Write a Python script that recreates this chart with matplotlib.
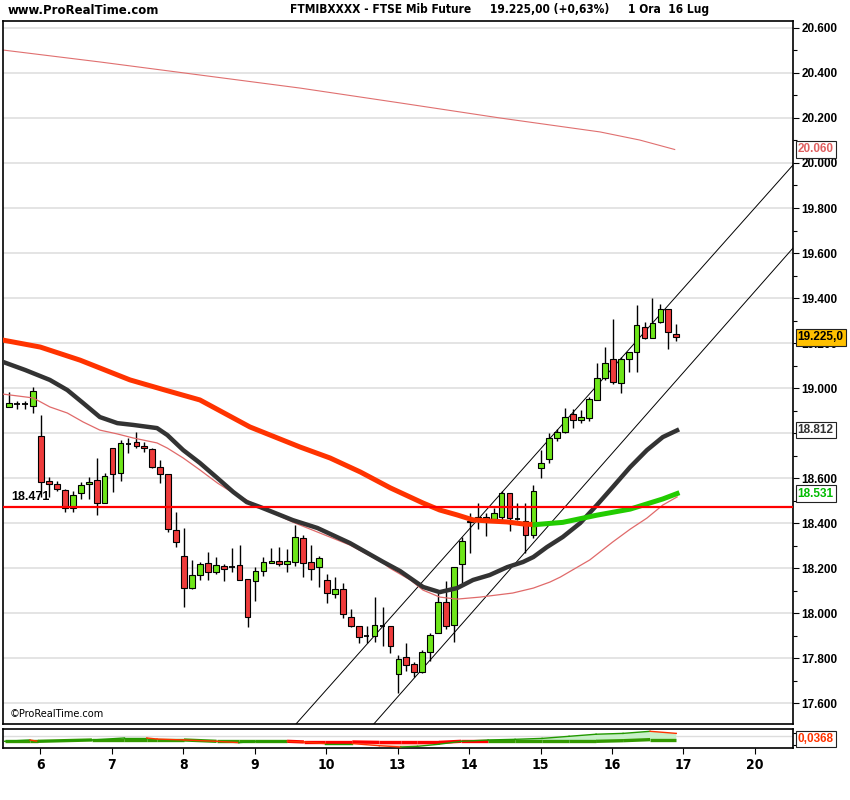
import numpy as np
import matplotlib.pyplot as plt
from matplotlib import font_manager
from matplotlib.ticker import MultipleLocator, FuncFormatter
from matplotlib.transforms import blended_transform_factory

# hourly candles: last 4 bars of 3 Jul, then 6..16 Jul (9 bars a day)
opens = [18917, 18928, 18928, 18921,
         18787, 18587, 18572, 18547, 18465, 18532, 18572, 18591, 18488,
         18732, 18621, 18750, 18762, 18742, 18728, 18650, 18616, 18369,
         18253, 18110, 18167, 18221, 18184, 18209, 18206, 18212, 18150,
         18144, 18188, 18221, 18231, 18216, 18228, 18332, 18225, 18203,
         18145, 18084, 18105, 17984, 17944, 17898, 17898, 17944, 17944,
         17728, 17803, 17773, 17736, 17828, 17910, 18048, 17947, 18216,
         18406, 18409, 18428, 18419, 18428, 18532, 18416, 18410, 18347,
         18643, 18683, 18776, 18806, 18883, 18858, 18866, 18947, 19043,
         19127, 19021, 19127, 19159, 19270, 19224, 19292, 19350, 19238]
highs = [18981, 18942, 18942, 19006,
         18880, 18603, 18587, 18550, 18544, 18581, 18603, 18689, 18624,
         18735, 18769, 18776, 18806, 18762, 18732, 18680, 18616, 18450,
         18379, 18236, 18228, 18271, 18249, 18218, 18289, 18302, 18150,
         18206, 18248, 18290, 18292, 18283, 18391, 18347, 18302, 18253,
         18173, 18162, 18132, 18017, 17944, 17942, 18070, 18025, 17944,
         17813, 17868, 17784, 17836, 17913, 18088, 18142, 18206, 18339,
         18443, 18487, 18443, 18468, 18544, 18535, 18487, 18487, 18569,
         18724, 18799, 18816, 18911, 18905, 18902, 18959, 19112, 19181,
         19305, 19136, 19161, 19369, 19295, 19399, 19373, 19350, 19284]
lows = [18917, 18905, 18905, 18887,
        18517, 18517, 18542, 18448, 18450, 18505, 18505, 18437, 18488,
        18539, 18588, 18710, 18732, 18717, 18643, 18579, 18362, 18295,
        18028, 18105, 18147, 18147, 18172, 18142, 18184, 18147, 17937,
        18055, 18164, 18221, 18210, 18184, 18210, 18162, 18147, 18114,
        18046, 18066, 17979, 17937, 17865, 17868, 17873, 17853, 17824,
        17643, 17744, 17714, 17732, 17788, 17910, 17929, 17873, 18135,
        18265, 18373, 18344, 18419, 18413, 18366, 18413, 18265, 18332,
        18599, 18665, 18766, 18799, 18821, 18843, 18853, 18947, 19036,
        19016, 18976, 19070, 19070, 19217, 19221, 19288, 19172, 19210]
closes = [18935, 18928, 18928, 18987,
          18584, 18572, 18550, 18465, 18523, 18568, 18581, 18488, 18610,
          18616, 18754, 18750, 18742, 18733, 18648, 18618, 18372, 18317,
          18113, 18167, 18216, 18181, 18212, 18194, 18206, 18147, 17984,
          18188, 18225, 18231, 18216, 18231, 18337, 18221, 18194, 18243,
          18088, 18105, 17994, 17944, 17892, 17898, 17945, 17944, 17853,
          17794, 17769, 17736, 17828, 17901, 18048, 17944, 18206, 18322,
          18409, 18428, 18419, 18443, 18532, 18421, 18416, 18347, 18544,
          18668, 18776, 18806, 18870, 18858, 18870, 18950, 19043, 19110,
          19025, 19127, 19159, 19280, 19221, 19288, 19350, 19247, 19225]

day_labels = ['6', '7', '8', '9', '10', '13', '14', '15', '16', '17', '20']

# averages (bar position, value)
ma_red_x = [-0.8, 3.9, 8.9, 15.2, 19.6, 24.0, 30.3, 36.6, 40.4, 44.2, 48.0,
            52.1, 54.2, 56.4, 58.4, 60.5, 62.7, 64.7, 66.2]
ma_red_y = [19213, 19182, 19124, 19036, 18991, 18947, 18827, 18738, 18689,
            18627, 18556, 18489, 18458, 18436, 18414, 18409, 18405, 18396, 18393]
ma_green_x = [66.2, 69.7, 74.0, 78.2, 82.3, 84.1]
ma_green_y = [18393, 18403, 18435, 18462, 18507, 18531]

ma_gray_x = [-0.8, 2.0, 5.1, 7.3, 9.3, 11.4, 13.6, 15.6, 18.6, 19.9, 21.9,
             24.0, 26.2, 28.2, 29.9, 31.6, 35.7, 38.8, 42.9, 45.1, 47.1, 49.2,
             52.1, 54.2, 56.4, 58.4, 60.5, 62.7, 64.7, 66.0, 67.7, 69.7, 71.9,
             74.0, 76.0, 78.2, 80.3, 82.3, 84.1]
ma_gray_y = [19116, 19080, 19036, 18991, 18933, 18871, 18844, 18836, 18822,
             18791, 18724, 18667, 18600, 18538, 18493, 18471, 18413, 18378,
             18311, 18267, 18227, 18187, 18116, 18093, 18111, 18147, 18169,
             18204, 18227, 18249, 18293, 18338, 18400, 18480, 18560, 18649,
             18724, 18782, 18812]

ma_thin_x = [-0.8, 3.0, 5.1, 7.3, 9.3, 11.4, 13.6, 15.6, 18.6, 19.9, 21.9,
             24.0, 26.2, 28.2, 29.9, 31.6, 35.7, 42.9, 47.1, 47.9, 50.5, 52.1,
             54.2, 56.4, 59.3, 63.4, 66.0, 68.1, 69.4, 73.1, 76.0, 78.2, 80.3,
             82.3, 84.1]
ma_thin_y = [18973, 18956, 18916, 18889, 18849, 18813, 18796, 18778, 18756,
             18733, 18689, 18636, 18578, 18533, 18502, 18471, 18404, 18302,
             18222, 18200, 18147, 18102, 18071, 18062, 18071, 18089, 18111,
             18138, 18160, 18236, 18316, 18373, 18422, 18480, 18516]

ma_long_x = [-0.8, 11.4, 24.0, 36.6, 49.2, 61.8, 74.4, 79.4, 83.8]
ma_long_y = [20502, 20449, 20391, 20333, 20267, 20200, 20138, 20102, 20060]

level = 18471
chan1_x = [36.1, 98.7]
chan1_y = [17507, 19991]
chan2_x = [45.9, 98.7]
chan2_y = [17507, 19622]

# lower oscillator panel
osc_x = [-0.6, 2.6, 3.6, 10.4, 14.5, 17.3, 18.6, 22.0, 26.1, 28.9, 30.9, 35.0,
         37.1, 39.8, 43.2, 46.6, 49.3, 51.4, 54.1, 56.9, 60.3, 63.7, 67.1, 70.5,
         73.9, 77.3, 80.7, 84.0]
osc_y = [0, 0.0064, 0, 0.0064, 0.016, 0.016, 0.011, 0.0064, 0, -0.0064, 0, 0,
         -0.0032, -0.011, -0.011, -0.021, -0.027, -0.024, -0.014, 0, 0.0064,
         0.0096, 0.014, 0.024, 0.034, 0.038, 0.048, 0.038]
sig_y = [0, 0, 0, 0.0064, 0.0064, 0.0064, 0.0064, 0.0064, 0, 0, 0, 0,
         -0.003, -0.003, -0.003, -0.005, -0.005, -0.005, -0.005, 0, 0, 0, 0, 0,
         0, 0.003, 0.008, 0.008]

GREEN = '#6EE619'
RED = '#EE3B3B'
BOLD = ['Liberation Sans', 'DejaVu Sans']

# pick a condensed face for the header/date texts if one is installed
_fonts = {(f.name, f.stretch) for f in font_manager.fontManager.ttflist}
if any(name == 'Liberation Sans Narrow' for name, _ in _fonts):
    NARROW = dict(family=['Liberation Sans Narrow', 'DejaVu Sans'])
elif ('DejaVu Sans', 'condensed') in _fonts:
    NARROW = dict(family=['DejaVu Sans'], fontstretch='condensed')
else:
    NARROW = dict(family=BOLD)

fig = plt.figure(figsize=(8.5, 8), dpi=100)
ax = fig.add_axes([3 / 850, 1 - 724 / 800, 790 / 850, 703 / 800])
ax2 = fig.add_axes([3 / 850, 1 - 748 / 800, 790 / 850, 19 / 800], sharex=ax)

n = len(opens)
xs = np.arange(n)
o = np.array(opens)
c = np.array(closes)

ax.set_xlim(-0.8, 98.7)
ax.set_ylim(17507, 20631)
ax.yaxis.set_major_locator(MultipleLocator(200))
ax.yaxis.set_minor_locator(MultipleLocator(100))
ax.grid(axis='y', color='#DDDDDD', lw=1.1, zorder=0)
ax.set_axisbelow(True)

# moving averages and channel
ax.plot(ma_long_x, ma_long_y, color='#E07070', lw=0.8, zorder=2)
ax.plot(chan1_x, chan1_y, color='black', lw=0.7, zorder=2)
ax.plot(chan2_x, chan2_y, color='black', lw=0.7, zorder=2)

# candles
ax.vlines(xs, lows, highs, color='black', lw=1.0, zorder=3)
up = c > o
dn = c < o
flat = c == o
ax.bar(xs[up], (c - o)[up], bottom=o[up], width=0.72, color=GREEN,
       edgecolor='black', lw=0.8, zorder=4)
ax.bar(xs[dn], (o - c)[dn], bottom=c[dn], width=0.72, color=RED,
       edgecolor='black', lw=0.8, zorder=4)
ax.hlines(c[flat], xs[flat] - 0.36, xs[flat] + 0.36, color='black', lw=1.3,
          zorder=4)

ax.plot(ma_thin_x, ma_thin_y, color='#E06A6A', lw=0.9, zorder=5)
ax.plot(ma_gray_x, ma_gray_y, color='#333333', lw=3.2, zorder=5)
ax.plot(ma_red_x, ma_red_y, color='#FF3300', lw=3.6, zorder=6)
ax.plot(ma_green_x, ma_green_y, color='#22CC00', lw=3.6, zorder=6)
ax.axhline(level, color='#FF0000', lw=1.6, zorder=7)
ax.text(0.2, level + 18, '18.471', fontsize=9, fontweight='bold',
        family=BOLD, va='bottom', ha='left', zorder=8)
copy_txt = ax.text(0.0, 17530, '\u00a9ProRealTime.com', fontsize=7.5,
                   va='bottom', ha='left', **NARROW)

ax.yaxis.tick_right()
ax.yaxis.set_major_formatter(FuncFormatter(lambda v, p: f'{v:,.0f}'.replace(',', '.')))
ax.tick_params(axis='y', which='both', direction='out', length=4, width=0.8,
               labelsize=8.5, pad=2)
ax.tick_params(axis='y', which='minor', length=3)
for lab in ax.get_yticklabels():
    lab.set_fontweight('bold')
    lab.set_family(BOLD)
ax.tick_params(axis='x', bottom=False, labelbottom=False)
for s in ax.spines.values():
    s.set_linewidth(1.2)

# value boxes on the right
tr = blended_transform_factory(ax.transAxes, ax.transData)
tags = [(20060, '20.060', '#E06060', 'white'),
        (19225, '19.225,0', 'black', '#FFC000'),
        (18812, '18.812', '#333333', 'white'),
        (18531, '18.531', '#00BB00', 'white')]
for val, txt, fc, bg in tags:
    ax.text(1.006, val, txt, transform=tr, fontsize=8.5, fontweight='bold',
            family=BOLD, color=fc, va='center', ha='left', clip_on=False,
            bbox=dict(boxstyle='square,pad=0.18', fc=bg, ec='#222222', lw=0.8))

# oscillator panel
ax2.set_ylim(-0.032, 0.059)
ax2.axhline(0.024, color='#DDDDDD', lw=1.0, zorder=0)
ox = np.array(osc_x)
oy = np.array(osc_y)
sy = np.array(sig_y)
ax2.fill_between(ox, oy, sy, where=oy >= sy, interpolate=True, color='#C8F0C8',
                 lw=0, zorder=1)
ax2.fill_between(ox, oy, sy, where=oy < sy, interpolate=True, color='#FFD2C8',
                 lw=0, zorder=1)
for i in range(len(ox) - 1):
    col = '#FF3300' if oy[i + 1] < oy[i] else '#229900'
    ax2.plot(ox[i:i + 2], oy[i:i + 2], color=col, lw=1.0, zorder=3)
    scol = '#FF0000' if 35 <= ox[i] < 57 else '#339900'
    ax2.plot(ox[i:i + 2], sy[i:i + 2], color=scol, lw=2.4, zorder=2,
             solid_capstyle='butt')
ax2.yaxis.tick_right()
ax2.set_yticks([-0.02, 0.04])
ax2.tick_params(axis='y', direction='out', length=3, labelright=False)
tr2 = blended_transform_factory(ax2.transAxes, ax2.transData)
ax2.text(1.006, 0.012, '0,0368', transform=tr2, fontsize=8.5, fontweight='bold',
         family=BOLD, color='#FF3300', va='center', ha='left', clip_on=False,
         bbox=dict(boxstyle='square,pad=0.18', fc='white', ec='#222222', lw=0.8))
for s in ax2.spines.values():
    s.set_linewidth(1.2)

ax2.set_xticks([4 + 9 * k - 0.1 for k in range(len(day_labels))])
ax2.set_xticklabels(day_labels)
ax2.tick_params(axis='x', direction='out', length=4, width=0.8, labelsize=10,
                pad=3)
for lab in ax2.get_xticklabels():
    lab.set_fontweight('bold')
    lab.set_family(NARROW['family'])
    if 'fontstretch' in NARROW:
        lab.set_fontstretch(NARROW['fontstretch'])

# header
site_txt = fig.text(8 / 850, 1 - 10 / 800, 'www.ProRealTime.com', fontsize=10.5,
                    fontweight='bold', va='center', ha='left', **NARROW)
title_txt = fig.text(290 / 850, 1 - 10 / 800,
                     'FTMIBXXXX - FTSE Mib Future     19.225,00 (+0,63%)     1 Ora  16 Lug',
                     fontsize=10.5, fontweight='bold', va='center', ha='left',
                     **NARROW)

# shrink the header texts to the widths they take in the original
fig.canvas.draw()
renderer = fig.canvas.get_renderer()
for t, width_px in [(site_txt, 152), (title_txt, 422), (copy_txt, 93)]:
    w = t.get_window_extent(renderer).width
    t.set_fontsize(t.get_fontsize() * width_px / w)

fig.savefig('out.png', dpi=100, facecolor='white')
